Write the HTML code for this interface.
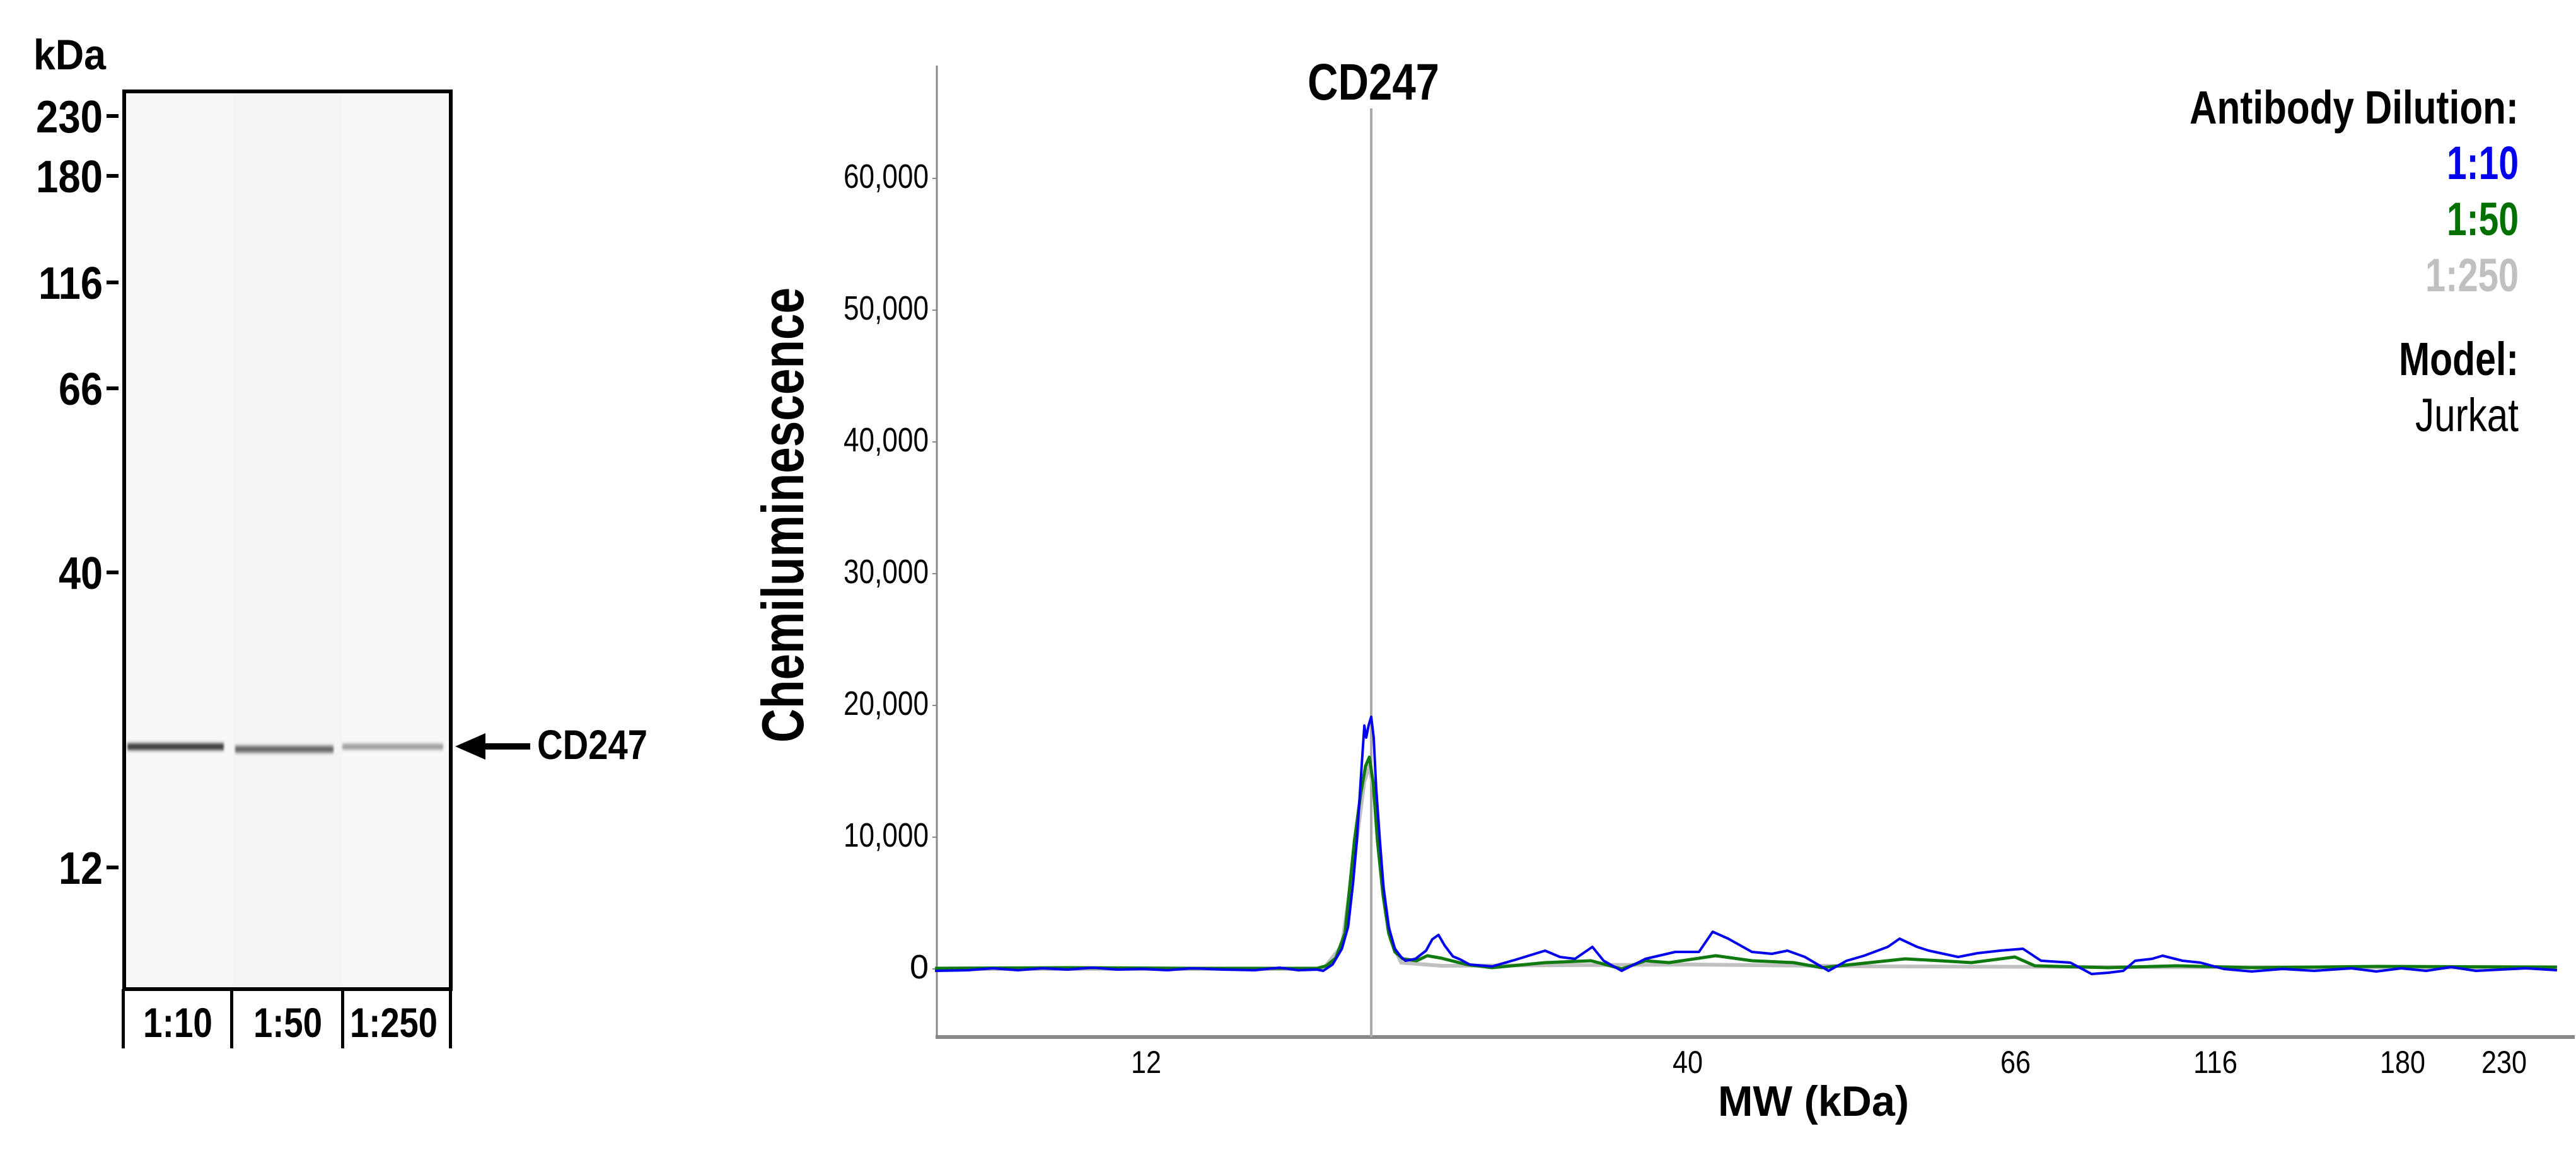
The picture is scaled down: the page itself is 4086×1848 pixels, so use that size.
<!DOCTYPE html>
<html><head><meta charset="utf-8"><style>html,body{margin:0;padding:0;background:#fff}svg{display:block}</style></head>
<body>
<svg width="4086" height="1848" viewBox="0 0 4086 1848" xmlns="http://www.w3.org/2000/svg" font-family="Liberation Sans, Arial, sans-serif">
<defs>
<filter id="bl" x="-10%" y="-200%" width="120%" height="500%"><feGaussianBlur stdDeviation="1.5 3"/></filter>
</defs>
<rect width="4086" height="1848" fill="#fff"/>
<!-- GEL -->
<g font-weight="bold" fill="#000">
<text x="53" y="110" font-size="68" textLength="115" lengthAdjust="spacingAndGlyphs">kDa</text>
<text x="57" y="210" font-size="72" textLength="106" lengthAdjust="spacingAndGlyphs">230</text>
<text x="57" y="305" font-size="72" textLength="106" lengthAdjust="spacingAndGlyphs">180</text>
<text x="61" y="474" font-size="72" textLength="102" lengthAdjust="spacingAndGlyphs">116</text>
<text x="93" y="642" font-size="72" textLength="70" lengthAdjust="spacingAndGlyphs">66</text>
<text x="93" y="934" font-size="72" textLength="70" lengthAdjust="spacingAndGlyphs">40</text>
<text x="93" y="1402" font-size="72" textLength="70" lengthAdjust="spacingAndGlyphs">12</text>
<rect x="169" y="181" width="19" height="6"/>
<rect x="169" y="276" width="19" height="6"/>
<rect x="169" y="445" width="19" height="6"/>
<rect x="169" y="613" width="19" height="6"/>
<rect x="169" y="905" width="19" height="6"/>
<rect x="169" y="1373" width="19" height="6"/>
</g>
<rect x="197" y="145" width="172" height="1424" fill="#f8f8f8"/>
<rect x="369" y="145" width="174" height="1424" fill="#f5f5f5"/>
<rect x="543" y="145" width="172" height="1424" fill="#f8f8f8"/>
<rect x="202" y="1179" width="153" height="11" fill="#3e3e3e" filter="url(#bl)"/>
<rect x="373" y="1183" width="156" height="11" fill="#666" filter="url(#bl)"/>
<rect x="543" y="1180" width="160" height="9" fill="#9a9a9a" filter="url(#bl)"/>
<rect x="197" y="145" width="518" height="1424" fill="none" stroke="#000" stroke-width="6"/>
<g fill="#000">
<rect x="193" y="1569" width="5" height="94"/>
<rect x="365" y="1569" width="5" height="94"/>
<rect x="541" y="1569" width="5" height="94"/>
<rect x="712" y="1569" width="5" height="94"/>
</g>
<g font-weight="bold" font-size="66" fill="#000">
<text x="227" y="1645" textLength="110" lengthAdjust="spacingAndGlyphs">1:10</text>
<text x="402" y="1645" textLength="109" lengthAdjust="spacingAndGlyphs">1:50</text>
<text x="555" y="1645" textLength="139" lengthAdjust="spacingAndGlyphs">1:250</text>
<text x="852" y="1204" textLength="175" lengthAdjust="spacingAndGlyphs">CD247</text>
</g>
<rect x="760" y="1179" width="81" height="10" fill="#000"/>
<polygon points="722,1184 770,1163 770,1205" fill="#000"/>

<!-- CHART -->
<line x1="1486" y1="104" x2="1486" y2="1646" stroke="#888" stroke-width="3"/>
<line x1="1484" y1="1645" x2="4084" y2="1645" stroke="#888" stroke-width="6"/>
<line x1="2175" y1="172" x2="2175" y2="1645" stroke="#aaa" stroke-width="4"/>
<g stroke="#888" stroke-width="2">
<line x1="1479" y1="1537" x2="1486" y2="1537"/><line x1="1479" y1="1328" x2="1486" y2="1328"/>
<line x1="1479" y1="1119" x2="1486" y2="1119"/><line x1="1479" y1="910" x2="1486" y2="910"/>
<line x1="1479" y1="701" x2="1486" y2="701"/><line x1="1479" y1="492" x2="1486" y2="492"/>
<line x1="1479" y1="283" x2="1486" y2="283"/>
</g>
<g font-size="54" fill="#000" text-anchor="end">
<text x="1473" y="1552">0</text>
<text x="1473" y="1343" textLength="135" lengthAdjust="spacingAndGlyphs">10,000</text>
<text x="1473" y="1134" textLength="135" lengthAdjust="spacingAndGlyphs">20,000</text>
<text x="1473" y="925" textLength="135" lengthAdjust="spacingAndGlyphs">30,000</text>
<text x="1473" y="716" textLength="135" lengthAdjust="spacingAndGlyphs">40,000</text>
<text x="1473" y="507" textLength="135" lengthAdjust="spacingAndGlyphs">50,000</text>
<text x="1473" y="298" textLength="135" lengthAdjust="spacingAndGlyphs">60,000</text>
</g>
<g font-size="50" fill="#000" text-anchor="middle">
<text x="1818" y="1702" textLength="48" lengthAdjust="spacingAndGlyphs">12</text>
<text x="2677" y="1702" textLength="48" lengthAdjust="spacingAndGlyphs">40</text>
<text x="3197" y="1702" textLength="48" lengthAdjust="spacingAndGlyphs">66</text>
<text x="3514" y="1702" textLength="70" lengthAdjust="spacingAndGlyphs">116</text>
<text x="3811" y="1702" textLength="72" lengthAdjust="spacingAndGlyphs">180</text>
<text x="3972" y="1702" textLength="72" lengthAdjust="spacingAndGlyphs">230</text>
</g>
<text x="2725" y="1770" font-size="68" font-weight="bold" textLength="303" lengthAdjust="spacingAndGlyphs">MW (kDa)</text>
<text transform="translate(1274,817) rotate(-90)" text-anchor="middle" font-size="94" font-weight="bold" textLength="722" lengthAdjust="spacingAndGlyphs">Chemiluminescence</text>
<text x="2074" y="158" font-size="82" font-weight="bold" textLength="209" lengthAdjust="spacingAndGlyphs">CD247</text>
<g font-size="74" font-weight="bold" text-anchor="end">
<text x="3995" y="196" textLength="522" lengthAdjust="spacingAndGlyphs">Antibody Dilution:</text>
<text x="3995" y="284" fill="#0000ee" textLength="114" lengthAdjust="spacingAndGlyphs">1:10</text>
<text x="3995" y="373" fill="#007000" textLength="114" lengthAdjust="spacingAndGlyphs">1:50</text>
<text x="3995" y="462" fill="#c0c0c0" textLength="148" lengthAdjust="spacingAndGlyphs">1:250</text>
<text x="3995" y="595" textLength="190" lengthAdjust="spacingAndGlyphs">Model:</text>
</g>
<text x="3995" y="684" font-size="74" text-anchor="end" textLength="164" lengthAdjust="spacingAndGlyphs">Jurkat</text>

<g fill="none" stroke-linejoin="round" transform="matrix(0.9884 0 0 1 13.34 0)">
<polyline stroke="#c0c0c0" stroke-width="6" points="1487,1537 2110,1537 2140,1500 2160,1360 2176,1240 2184,1215 2192,1260 2205,1400 2218,1490 2235,1527 2300,1532 2500,1531 2700,1530 3000,1533 3400,1534 4090,1535"/>
<polyline stroke="#107a10" stroke-width="5" points="1487,1536 1700,1535 1900,1536 2100,1536 2115,1532 2130,1520 2145,1480 2160,1334 2170,1260 2178,1215 2184,1201 2190,1240 2197,1334 2206,1420 2215,1480 2225,1510 2238,1521 2260,1524 2277,1516 2300,1520 2340,1530 2381,1535 2466,1527 2540,1524 2589,1537 2627,1524 2665,1527 2740,1516 2798,1524 2865,1527 2910,1535 3044,1521 3100,1524 3150,1527 3220,1518 3252,1532 3370,1535 3480,1532 3600,1535 3800,1533 4090,1534"/>
<polyline stroke="#0000ee" stroke-width="4" points="1487,1540 1540,1539 1580,1536 1620,1539 1660,1536 1700,1538 1740,1535 1780,1538 1820,1537 1860,1539 1900,1536 1950,1538 2000,1539 2040,1535 2070,1539 2100,1538 2110,1540 2125,1530 2140,1505 2150,1470 2158,1400 2164,1334 2170,1240 2176,1151 2179,1170 2183,1150 2187,1137 2191,1170 2195,1250 2201,1334 2207,1410 2215,1470 2225,1505 2235,1518 2242,1524 2258,1521 2275,1508 2285,1490 2295,1483 2305,1500 2318,1517 2330,1522 2345,1530 2381,1533 2420,1522 2466,1508 2490,1518 2514,1521 2542,1502 2560,1524 2589,1540 2627,1521 2675,1510 2713,1510 2735,1478 2760,1489 2798,1510 2830,1513 2855,1508 2883,1518 2921,1540 2950,1524 2978,1516 3016,1502 3035,1489 3063,1502 3082,1508 3129,1518 3160,1512 3196,1508 3233,1505 3262,1524 3309,1527 3343,1545 3370,1543 3394,1540 3413,1524 3440,1521 3457,1516 3489,1524 3518,1527 3555,1537 3600,1541 3650,1537 3700,1540 3760,1536 3800,1541 3840,1536 3880,1540 3920,1534 3960,1540 4000,1538 4040,1536 4090,1539"/>
</g>
</svg>
</body></html>
